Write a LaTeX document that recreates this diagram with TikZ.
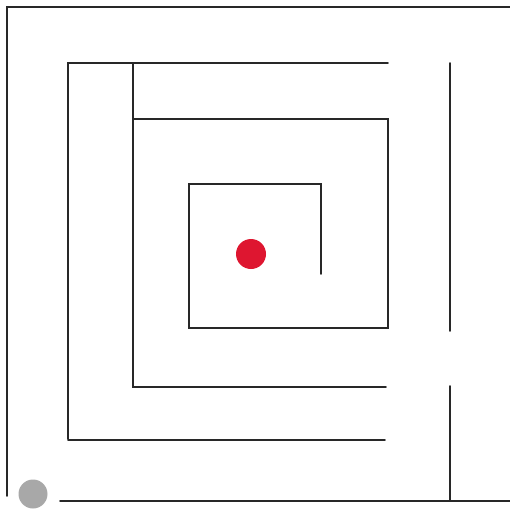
\documentclass[tikz,border=0pt]{standalone}
\usepackage{tikz}
\usetikzlibrary{positioning}
\definecolor{goalred}{RGB}{222,22,48}
\definecolor{startgray}{RGB}{168,168,168}
\definecolor{wallgray}{RGB}{40,40,40}

\begin{document}
\begin{tikzpicture}[x=0.02cm,y=-0.02cm,
wall/.style={draw=wallgray,line width=1.1pt,line cap=round,line join=miter},
dot/.style={circle,inner sep=0pt,minimum size=#1*0.02cm}]
\useasboundingbox (0,0) rectangle (510,510);
% outer walls
\draw[wall] (510,7) -- (7,7) -- (7,496);
\draw[wall] (60,501) -- (510,501);
% second ring
\draw[wall] (388,63) -- (68,63) -- (68,439);
\draw[wall] (68,440) -- (385,440);
% third ring
\draw[wall] (133,63) -- (133,387) -- (386,387);
\draw[wall] (133,119) -- (388,119) -- (388,328) -- (189,328) -- (189,184) -- (321,184) -- (321,274);
% right wall with gap
\draw[wall] (450,63) -- (450,331);
\draw[wall] (450,386) -- (450,501);
% goal and start
\node[dot=30,fill=goalred] (goal) at (251,254) {};
\node[dot=29,fill=startgray] (start) at (33,494) {};
\end{tikzpicture}
\end{document}
